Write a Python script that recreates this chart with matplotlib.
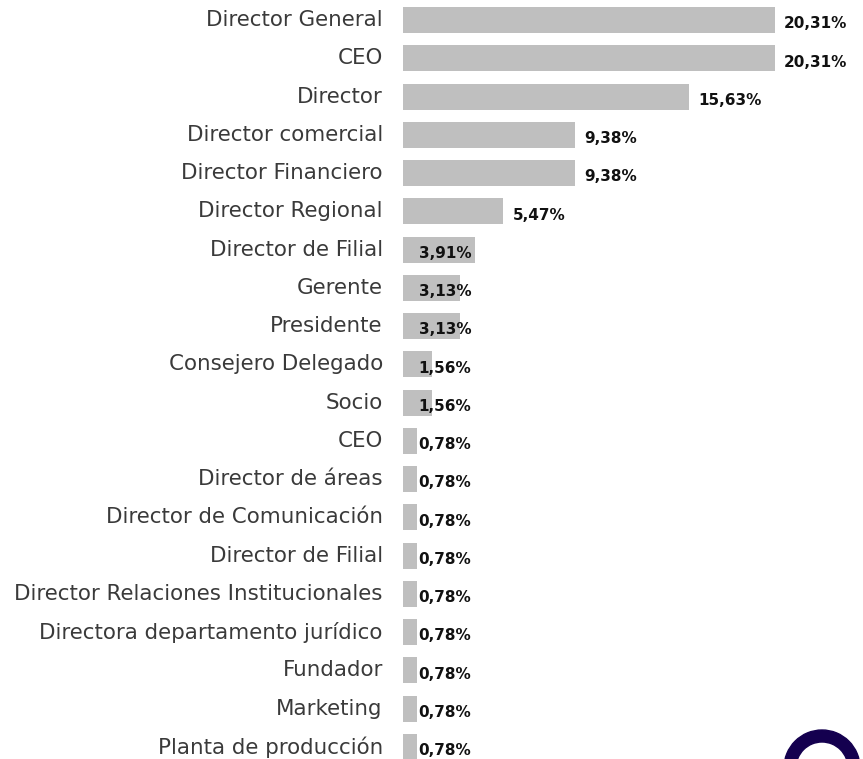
import matplotlib
matplotlib.use("Agg")
import matplotlib.pyplot as plt
from matplotlib.patches import Wedge

categories = [
    "Director General", "CEO", "Director", "Director comercial",
    "Director Financiero", "Director Regional", "Director de Filial",
    "Gerente", "Presidente", "Consejero Delegado", "Socio", "CEO",
    "Director de áreas", "Director de Comunicación", "Director de Filial",
    "Director Relaciones Institucionales", "Directora departamento jurídico",
    "Fundador", "Marketing", "Planta de producción",
]
values = [20.31, 20.31, 15.63, 9.38, 9.38, 5.47, 3.91, 3.13, 3.13, 1.56,
          1.56, 0.78, 0.78, 0.78, 0.78, 0.78, 0.78, 0.78, 0.78, 0.78]
value_labels = ["20,31%", "20,31%", "15,63%", "9,38%", "9,38%", "5,47%",
                "3,91%", "3,13%", "3,13%", "1,56%", "1,56%", "0,78%",
                "0,78%", "0,78%", "0,78%", "0,78%", "0,78%", "0,78%",
                "0,78%", "0,78%"]

W, H = 863, 759
fig = plt.figure(figsize=(W / 100, H / 100), dpi=100)
ax = fig.add_axes([403 / W, 0, 1 - 403 / W, 1])

px_per_unit = 372 / 20.31
ax.set_xlim(0, (W - 403) / px_per_unit)
row = 38.26
ax.set_ylim((H - 20) / row, -20 / row)

ypos = list(range(len(categories)))
ax.barh(ypos, values, height=0.68, color="#bfbfbf", left=0)

font = "DejaVu Sans"
for y, v, lab, cat in zip(ypos, values, value_labels, categories):
    x = v + 0.5 if v >= 5 else 0.85
    ax.text(x, y + 0.1, lab, ha="left", va="center", fontsize=11,
            fontweight="bold", color="#111111", family=font)
    ax.text(-1.1, y, cat, ha="right", va="center", fontsize=15.4,
            color="#3a3a3a", family=font)

ax.axis("off")

# logo ring at bottom right (partial)
logo_ax = fig.add_axes([0, 0, 1, 1], zorder=-1)
logo_ax.set_xlim(0, W)
logo_ax.set_ylim(H, 0)
logo_ax.axis("off")
logo_ax.add_patch(Wedge((822, 768), 38, 0, 360, width=12, color="#14004f"))

fig.savefig("out.png", dpi=100)
